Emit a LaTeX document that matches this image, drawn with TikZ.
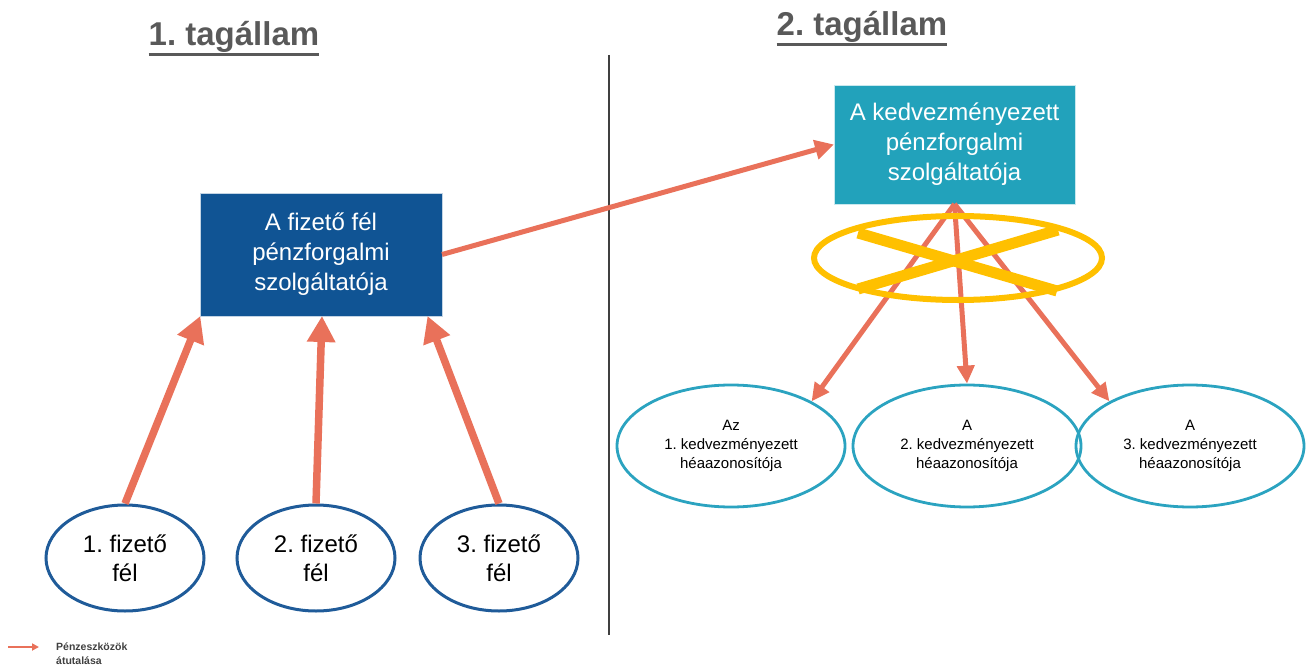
\documentclass[tikz,border=0pt]{standalone}
\usepackage{fontspec}
\setmainfont{Liberation Sans}
\usetikzlibrary{arrows.meta,shapes.geometric}
\frenchspacing

\definecolor{coral}{RGB}{233,113,90}
\definecolor{payerblue}{RGB}{16,84,148}
\definecolor{bankteal}{RGB}{34,162,187}
\definecolor{ringyellow}{RGB}{255,192,0}
\definecolor{ellblue}{RGB}{31,91,153}
\definecolor{ellteal}{RGB}{43,163,192}
\definecolor{titlegray}{RGB}{89,89,89}
\definecolor{rulegray}{RGB}{64,64,64}

% underlined heading: text with a thick rule below its descenders
\newcommand\headline[1]{\vtop{\hbox{#1}\kern0.5pt\hrule height 3pt}}

\begin{document}
\begin{tikzpicture}[x=1pt,y=-1pt,
  heading/.style={font=\fontsize{33}{40}\selectfont\bfseries, text=titlegray,
    inner sep=0pt, anchor=base},
  bankbox/.style={rectangle, draw=white!75!#1, line width=0.8pt, fill=#1,
    text=white, align=center, inner sep=0pt, outer sep=0pt,
    font=\fontsize{24}{30}\selectfont},
  payer/.style={ellipse, draw=ellblue, line width=3pt, fill=white,
    minimum width=158pt, minimum height=106pt, inner sep=0pt,
    align=center, font=\fontsize{24}{29}\selectfont},
  payee/.style={ellipse, draw=ellteal, line width=2.8pt,
    minimum width=228pt, minimum height=122pt, inner sep=0pt,
    align=center, font=\fontsize{15}{19}\selectfont},
  inflow/.style={draw=coral, line width=7.5pt,
    -{Triangle[length=26pt,width=27pt]}},
  transfer/.style={draw=coral, line width=5pt,
    -{Triangle[length=19pt,width=19pt]}},
  outflow/.style={draw=coral, line width=5pt,
    -{Triangle[length=18pt,width=17pt]}},
  ban/.style={draw=ringyellow},
]
\useasboundingbox (0,0) rectangle (1306,666);

% headings and the border between the two member states
\node[heading] (t1) at (234,46) {\headline{1. tagállam}};
\node[heading] (t2) at (862,36) {\headline{2. tagállam}};
\draw[rulegray, line width=1.5pt] (609,55) -- (609,635);

% payment service providers
\node[bankbox=payerblue, minimum width=242pt, minimum height=123pt]
  (pb) at (321,254.5) {A fizető fél\\pénzforgalmi\\szolgáltatója};
\node[bankbox=bankteal, minimum width=241pt, minimum height=119pt]
  (tb) at (954.5,144.5) {A kedvezményezett\\pénzforgalmi\\szolgáltatója};

% payers
\node[payer] (p1) at (125,558) {1. fizető\\fél};
\node[payer] (p2) at (316,558) {2. fizető\\fél};
\node[payer] (p3) at (499,558) {3. fizető\\fél};

% payees
\node[payee] (b1) at (731,446) {Az\\1. kedvezményezett\\héaazonosítója};
\node[payee] (b2) at (967,446) {A\\2. kedvezményezett\\héaazonosítója};
\node[payee] (b3) at (1190,446) {A\\3. kedvezményezett\\héaazonosítója};

% transfers
\draw[inflow] (p1.north) -- (pb.207);
\draw[inflow] (p2.north) -- ([xshift=1pt]pb.south);
\draw[inflow] (p3.north) -- (pb.-30);
\draw[transfer] (pb.east) -- (tb.west);
\draw[outflow] (tb.south) -- (b1.29);
\draw[outflow] (tb.south) -- (b2.north);
\draw[outflow] (tb.south) -- (b3.151);

% crossed-out ring over the split
\draw[ban, line width=6pt] (958,258) ellipse [x radius=144pt, y radius=42pt];
\draw[ban, line width=11pt] (858,233) -- (1057,291);
\draw[ban, line width=11pt] (858,289) -- (1058,230);

% legend
\coordinate (lgA) at (8,647);
\coordinate (lgB) at (39,647);
\draw[draw=coral, line width=1.8pt, -{Triangle[length=7pt,width=7pt]}] (lgA) -- (lgB);
\node[anchor=west, inner sep=0pt, align=left, text=rulegray,
  font=\fontsize{10.5}{14}\selectfont\bfseries] (lg) at (56,654)
  {Pénzeszközök\\átutalása};
\end{tikzpicture}
\end{document}
